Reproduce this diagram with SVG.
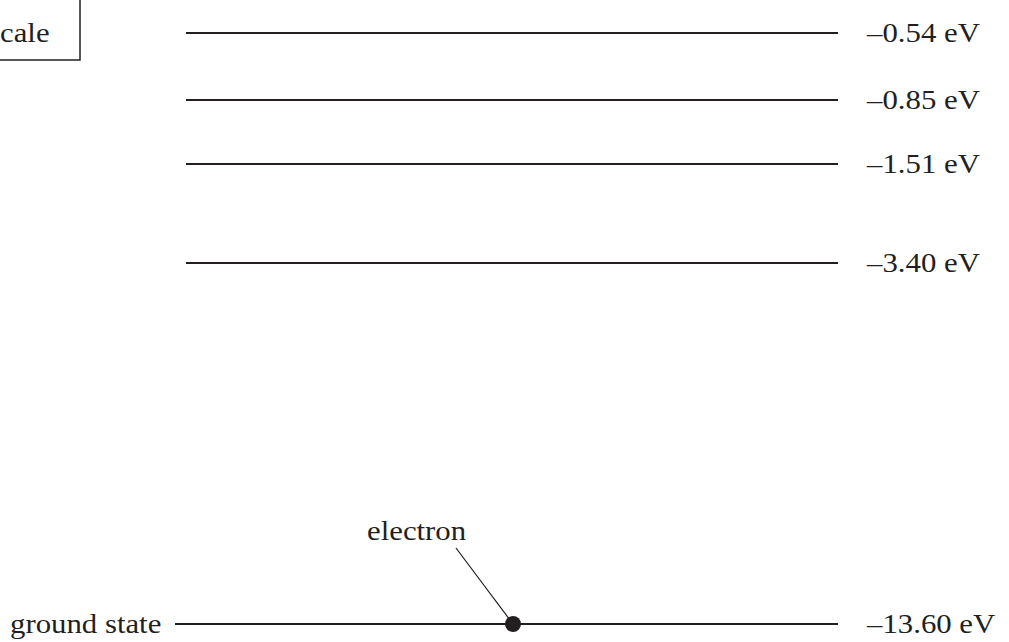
<svg xmlns="http://www.w3.org/2000/svg" width="1009" height="642" viewBox="0 0 1009 642">
<style>
.lvl{stroke:#231f20;stroke-width:2;fill:none}
.t{font-family:"Liberation Serif","Times New Roman",serif;font-size:28px;fill:#231f20}
.lead{stroke:#231f20;stroke-width:1.2;fill:none}
</style>
<rect width="1009" height="642" fill="#fff"/>
<g id="scale-box">
<rect x="-20" y="-10" width="100" height="70" fill="none" stroke="#231f20" stroke-width="1.5"/>
<text class="t" transform="translate(0,42) scale(1.1,1)">cale</text>
</g>
<g id="connectors">
<line class="lvl" x1="186" y1="33" x2="838" y2="33"/>
<line class="lvl" x1="186" y1="100" x2="838" y2="100"/>
<line class="lvl" x1="186" y1="164" x2="838" y2="164"/>
<line class="lvl" x1="186" y1="263" x2="838" y2="263"/>
<line class="lvl" x1="175" y1="624" x2="838" y2="624"/>
<line class="lead" x1="513" y1="624" x2="456" y2="548"/>
</g>
<g id="level-054"><text class="t" transform="translate(867,42) scale(1.1,1)">–0.54 eV</text></g>
<g id="level-085"><text class="t" transform="translate(867,109) scale(1.1,1)">–0.85 eV</text></g>
<g id="level-151"><text class="t" transform="translate(867,173) scale(1.1,1)">–1.51 eV</text></g>
<g id="level-340"><text class="t" transform="translate(867,272) scale(1.1,1)">–3.40 eV</text></g>
<g id="level-1360"><text class="t" transform="translate(867,633) scale(1.1,1)">–13.60 eV</text></g>
<g id="ground-state"><text class="t" transform="translate(10,633) scale(1.1,1)">ground state</text></g>
<g id="electron">
<circle cx="513" cy="624" r="8" fill="#231f20"/>
<text class="t" transform="translate(367,540) scale(1.1,1)">electron</text>
</g>
</svg>
